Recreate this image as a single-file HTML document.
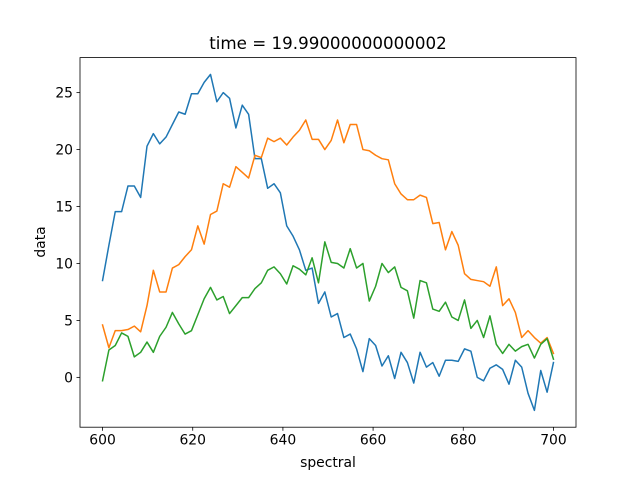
<!DOCTYPE html>
<html><head><meta charset="utf-8"><style>
body{margin:0;background:#fff;}
svg text{font-family:"DejaVu Sans","Liberation Sans",sans-serif;fill:#000;}
</style></head><body>
<svg id="chart" width="640" height="480" xmlns="http://www.w3.org/2000/svg">
<rect width="640" height="480" fill="#fff"/>
<text x="328" y="49" font-size="16.7" text-anchor="middle">time = 19.99000000000002</text>
<g id="ticks"></g>
<g id="lines"></g>
<rect x="80" y="57.6" width="496" height="369.6" fill="none" stroke="#000" stroke-width="0.8"/>
<text x="328" y="467" font-size="13.9" text-anchor="middle">spectral</text>
<text transform="translate(45,242) rotate(-90)" font-size="13.9" text-anchor="middle">data</text>
</svg>
<script>
const xStart = 600, xEnd = 700;
const xTicks = [600, 620, 640, 660, 680, 700];
const yTicks = [0, 5, 10, 15, 20, 25];
const seriesBlue = [8.5,11.6,14.55,14.55,16.8,16.8,15.8,20.3,21.4,20.5,21.1,22.2,23.3,23.1,24.9,24.9,25.9,26.6,24.2,25.0,24.5,21.9,23.9,23.1,19.2,19.2,16.6,17.0,16.2,13.3,12.4,11.2,9.4,9.6,6.5,7.5,5.3,5.6,3.5,3.8,2.5,0.5,3.4,2.8,1.0,1.9,-0.1,2.2,1.3,-0.5,2.2,0.9,1.3,0.1,1.5,1.5,1.4,2.5,2.3,0.0,-0.3,0.8,1.1,0.7,-0.6,1.5,0.9,-1.4,-2.9,0.6,-1.3,1.3];
const seriesOrange = [4.6,2.6,4.1,4.1,4.2,4.5,4.0,6.3,9.4,7.5,7.5,9.6,9.9,10.6,11.2,13.3,11.7,14.3,14.6,17.0,16.7,18.5,18.0,17.5,19.5,19.3,21.0,20.7,21.0,20.4,21.1,21.7,22.6,20.9,20.9,20.0,20.8,22.6,20.6,22.2,22.2,20.0,19.9,19.5,19.2,19.1,17.0,16.1,15.6,15.6,16.0,15.8,13.5,13.6,11.2,12.8,11.6,9.1,8.6,8.5,8.4,8.0,9.7,6.3,6.9,5.7,3.5,4.1,3.5,3.0,3.5,2.1];
const seriesGreen = [-0.3,2.4,2.8,3.9,3.6,1.8,2.2,3.1,2.2,3.6,4.4,5.7,4.7,3.8,4.1,5.5,6.9,7.9,6.8,7.1,5.6,6.3,7.0,7.0,7.8,8.3,9.4,9.7,9.1,8.2,9.8,9.5,9.0,10.5,8.3,11.9,10.1,10.0,9.6,11.3,9.6,10.0,6.7,8.0,10.0,9.2,9.7,7.9,7.6,5.2,8.5,8.3,6.0,5.8,6.6,5.3,5.0,6.8,4.3,5.0,3.5,5.4,2.9,2.1,2.9,2.3,2.7,2.9,1.7,2.9,3.4,1.6];
const seriesNames = ['series-blue','series-orange','series-green'];
const seriesColors = ['#1f77b4','#ff7f0e','#2ca02c'];

const L=80,R=576,T=57.6,B=427.2;
const all=[...seriesBlue,...seriesOrange,...seriesGreen];
let mn=Math.min(...all), mx=Math.max(...all), pad=(mx-mn)*0.05;
const yMin=mn-pad, yMax=mx+pad;
const xPad=(xEnd-xStart)*0.05;
const sx=v=>L+(v-(xStart-xPad))/((xEnd+xPad)-(xStart-xPad))*(R-L);
const sy=v=>B-(v-yMin)/(yMax-yMin)*(B-T);
const NS='http://www.w3.org/2000/svg';
const tg=document.getElementById('ticks'), lg=document.getElementById('lines');
function mk(t,a){const e=document.createElementNS(NS,t);for(const k in a)e.setAttribute(k,a[k]);return e;}
xTicks.forEach(v=>{
  const x=sx(v);
  const l=mk('line',{x1:x,x2:x,y1:B,y2:B+3.5,stroke:'#000','stroke-width':0.8});
  
  
  tg.appendChild(l);
  const t=mk('text',{x:x,y:B+17.5,'font-size':13.9,'text-anchor':'middle'});
  t.textContent=v;
  
  
  tg.appendChild(t);
});
yTicks.forEach(v=>{
  const y=sy(v);
  const l=mk('line',{x1:L-3.5,x2:L,y1:y,y2:y,stroke:'#000','stroke-width':0.8});
  
  
  tg.appendChild(l);
  const t=mk('text',{x:L-7,y:y+5,'font-size':13.9,'text-anchor':'end'});
  t.textContent=v;
  
  
  tg.appendChild(t);
});
[seriesBlue,seriesOrange,seriesGreen].forEach((s,k)=>{
  const n=s.length;
  const pts=s.map((v,i)=>sx(xStart+(xEnd-xStart)*i/(n-1)).toFixed(2)+','+sy(v).toFixed(2)).join(' ');
  const p=mk('polyline',{points:pts,fill:'none',stroke:seriesColors[k],'stroke-width':1.5,'stroke-linejoin':'round','stroke-linecap':'square'});
  
  
  lg.appendChild(p);
});
</script>
</body></html>
